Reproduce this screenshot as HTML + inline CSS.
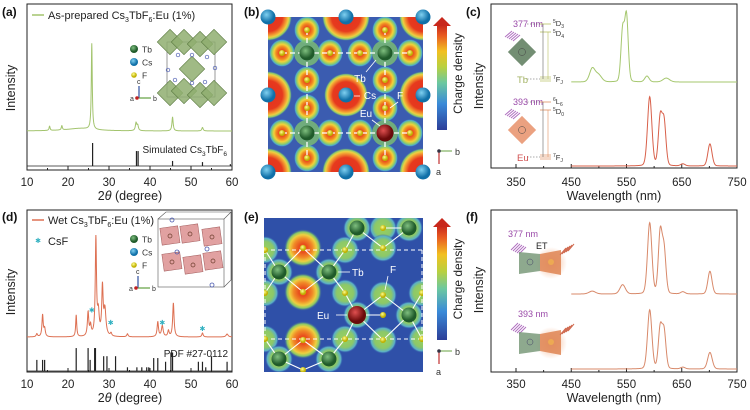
<!DOCTYPE html>
<html><head><meta charset="utf-8">
<style>
html,body{margin:0;padding:0;background:#fff;}
svg{display:block;font-family:"Liberation Sans",sans-serif;}
</style></head>
<body>
<svg id="fig" width="750" height="410" viewBox="0 0 750 410" xmlns="http://www.w3.org/2000/svg">
<defs>
<radialGradient id="gF"><stop offset="0" stop-color="#f5e020"/><stop offset="0.18" stop-color="#e8401c"/><stop offset="0.45" stop-color="#f08a22"/><stop offset="0.62" stop-color="#f2d23a"/><stop offset="0.8" stop-color="#8ccc6c"/><stop offset="0.92" stop-color="#4aa6d0"/><stop offset="1" stop-color="#3a5cb0" stop-opacity="0"/></radialGradient>
<radialGradient id="gCs"><stop offset="0" stop-color="#e23020"/><stop offset="0.6" stop-color="#e63a1e"/><stop offset="0.75" stop-color="#f29030"/><stop offset="0.85" stop-color="#eed040"/><stop offset="0.93" stop-color="#86c870"/><stop offset="1" stop-color="#3a5cb0" stop-opacity="0"/></radialGradient>
<radialGradient id="gG"><stop offset="0" stop-color="#9ad060"/><stop offset="0.6" stop-color="#8cc868"/><stop offset="0.85" stop-color="#5ab0c8"/><stop offset="1" stop-color="#2f50a8" stop-opacity="0"/></radialGradient>
<radialGradient id="gO"><stop offset="0" stop-color="#f5d020"/><stop offset="0.2" stop-color="#e84a1c"/><stop offset="0.5" stop-color="#f08a28"/><stop offset="0.7" stop-color="#eed040"/><stop offset="0.85" stop-color="#88c868"/><stop offset="1" stop-color="#2f50a8" stop-opacity="0"/></radialGradient>
<radialGradient id="ballG" cx="0.4" cy="0.35"><stop offset="0" stop-color="#7fbf7f"/><stop offset="1" stop-color="#1f5a2a"/></radialGradient>
<radialGradient id="ballB" cx="0.4" cy="0.35"><stop offset="0" stop-color="#7fd0f0"/><stop offset="1" stop-color="#1070a8"/></radialGradient>
<radialGradient id="ballR" cx="0.4" cy="0.35"><stop offset="0" stop-color="#e05050"/><stop offset="1" stop-color="#6a0a0a"/></radialGradient>
<radialGradient id="ballY" cx="0.4" cy="0.35"><stop offset="0" stop-color="#ffff90"/><stop offset="1" stop-color="#c0b000"/></radialGradient>
<linearGradient id="cbar" x1="0" y1="1" x2="0" y2="0"><stop offset="0" stop-color="#2c3e98"/><stop offset="0.25" stop-color="#3a8ad8"/><stop offset="0.45" stop-color="#6cc8a0"/><stop offset="0.6" stop-color="#b8d040"/><stop offset="0.75" stop-color="#f2c020"/><stop offset="0.9" stop-color="#e85a20"/><stop offset="1" stop-color="#c8281c"/></linearGradient>
<radialGradient id="glow"><stop offset="0" stop-color="#f0a070" stop-opacity="0.8"/><stop offset="1" stop-color="#f0a070" stop-opacity="0"/></radialGradient>
</defs>
<g id="root"></g>
</svg>
<script>
// ===== Panel (a) data =====
const aTicks = [10, 20, 30, 40, 50, 60];
const aPeaks = [[15.5, 5, 0.15], [18.5, 5, 0.15], [23, 3, 4], [25.8, 100, 0.14], [36.6, 9, 0.2], [37.0, 6, 0.2], [45.5, 16, 0.18], [52.8, 4, 0.2]];
const aSticks = [[26.0, 100], [36.7, 65], [37.1, 65], [45.5, 22], [52.8, 17], [59.6, 8]];
// ===== Panel (d) data =====
const dPeaks = [[12.4, 3, 0.2], [13.8, 22, 0.18], [14.3, 8, 0.2], [22.0, 22, 0.15], [24.9, 24, 0.2], [25.5, 10, 0.2], [26.8, 98, 0.18], [27.4, 22, 0.25], [28.4, 48, 0.2], [29.0, 26, 0.3], [30.5, 3, 0.2], [34.5, 3, 0.2], [41.9, 15, 0.2], [43.0, 11, 0.25], [44.5, 6, 0.2], [45.7, 34, 0.2], [52.8, 4, 0.2], [58.8, 3, 0.3]];
const dSticks = [[12.4, 30], [13.8, 30], [14.3, 30], [22.0, 62], [24.9, 62], [25.4, 30], [26.5, 62], [26.7, 62], [28.7, 40], [29.5, 40], [31.6, 40], [34.5, 10], [36.8, 10], [38.0, 10], [39.2, 10], [39.7, 10], [40.9, 35], [41.9, 35], [43.8, 25], [45.1, 50], [45.5, 50], [51.8, 25], [52.8, 25], [53.6, 10], [55.0, 40], [58.8, 25]];
const dCsF = [[25.8, 28], [30.4, 15], [43.0, 15], [52.8, 9]];
// ===== Panel (c) data =====
const wlTicks = [350, 450, 550, 650, 750];
const cTb = [[488, 20, 5], [499, 11, 6], [543, 78, 3.2], [550, 100, 3.2], [587, 9, 4], [622, 6, 6]];
const cEu = [[592, 100, 4], [611, 68, 3.5], [618, 62, 3.5], [652, 3, 4], [701, 32, 3.8]];
// ===== Panel (f) data =====
const fTop = [[488, 4, 6], [543, 13, 5], [592, 100, 4], [611, 85, 3.5], [618, 60, 3.5], [652, 3, 4], [701, 32, 3.8]];
const fBot = [[592, 100, 4], [611, 68, 3.5], [618, 62, 3.5], [652, 3, 4], [701, 28, 4.2]];

const NS = 'http://www.w3.org/2000/svg';
const root = document.getElementById('root');
function mk(tag, at, parent) {
  const e = document.createElementNS(NS, tag);
  for (const k in at) e.setAttribute(k, at[k]);
  (parent || root).appendChild(e);
  return e;
}
function txt(x, y, s, at, parent) {
  const e = mk('text', Object.assign({x: x, y: y}, at || {}), parent);
  e.innerHTML = s;
  return e;
}
function lor(x, peaks) { let s = 0; for (const p of peaks) { const u = (x - p[0]) / p[2]; s += p[1] / (1 + u * u); } return s; }
function gau(x, peaks) { let s = 0; for (const p of peaks) { const u = (x - p[0]) / p[2]; s += p[1] * (0.85 * Math.exp(-0.5 * u * u) + 0.15 / (1 + u * u)); } return s; }

function frame(x0, y0, x1, y1, name) {
  const r = mk('rect', {x: x0, y: y0, width: x1 - x0, height: y1 - y0, fill: 'none', stroke: '#222', 'stroke-width': 1});
  
  
}
function xaxis(sx, ticks, y1, minorStep, labelY, title, cx, titleY, name) {
  const g = mk('g', {});
  
  
  for (const t of ticks) {
    mk('line', {x1: sx(t), x2: sx(t), y1: y1, y2: y1 - 4, stroke: '#222'}, g);
    const l = txt(sx(t), labelY, t, {'font-size': 11.5, 'text-anchor': 'middle', fill: '#222'}, g);
    
    
  }
  for (let i = 0; i < ticks.length - 1; i++) {
    const m = (ticks[i] + ticks[i + 1]) / 2;
    mk('line', {x1: sx(m), x2: sx(m), y1: y1, y2: y1 - 2, stroke: '#222'}, g);
  }
  const tt = txt(cx, titleY, title, {'font-size': 12.5, 'text-anchor': 'middle', fill: '#222'}, g);
  
  
}
function ytitle(x, y, name) {
  const t = txt(x, y, 'Intensity', {'font-size': 12.5, 'text-anchor': 'middle', fill: '#222', transform: 'rotate(-90 ' + x + ' ' + y + ')'});
  
  
}
function plabel(x, y, s) {
  const t = txt(x, y, s, {'font-size': 12, 'font-weight': 'bold', fill: '#111'});
  
  
}
function curve(sx, sy, x0, x1, step, fn, color, name, w) {
  let d = '';
  for (let x = x0; x <= x1 + 1e-9; x += step) d += (d ? 'L' : 'M') + sx(x).toFixed(2) + ' ' + sy(fn(x)).toFixed(2);
  const p = mk('path', {d: d, fill: 'none', stroke: color, 'stroke-width': w || 1});
  
  
}
function sticks(sx, base, scale, data, name) {
  const g = mk('g', {});
  
  
  mk('line', {x1: sx(10), x2: sx(60), y1: base, y2: base, stroke: '#222', 'stroke-width': 0.8}, g);
  for (const s of data) mk('line', {x1: sx(s[0]), x2: sx(s[0]), y1: base, y2: base - s[1] * scale, stroke: '#222', 'stroke-width': 1.2}, g);
}
function atomLegend(x, y) {
  const g = mk('g', {});
  
  
  const items = [['Tb', 'url(#ballG)', 4], ['Cs', 'url(#ballB)', 4], ['F', 'url(#ballY)', 2.8]];
  items.forEach((it, i) => {
    mk('circle', {cx: x, cy: y + i * 13, r: it[2], fill: it[1]}, g);
    txt(x + 8, y + i * 13 + 3.5, it[0], {'font-size': 8.5, fill: '#333'}, g);
  });
}
function axesTriad(x, y, name) {
  const g = mk('g', {});
  
  
  mk('line', {x1: x, y1: y, x2: x, y2: y - 12, stroke: '#3050a0', 'stroke-width': 1.2}, g);
  mk('line', {x1: x, y1: y, x2: x + 12, y2: y, stroke: '#60a040', 'stroke-width': 1.2}, g);
  mk('circle', {cx: x - 2, cy: y, r: 1.8, fill: '#c02020'}, g);
  txt(x - 2, y - 14, 'c', {'font-size': 7, fill: '#333'}, g);
  txt(x + 14, y + 3, 'b', {'font-size': 7, fill: '#333'}, g);
  txt(x - 9, y + 3, 'a', {'font-size': 7, fill: '#333'}, g);
}

// ===================== Panel (a) =====================
const axA = d => 27 + (d - 10) * 4.1;
const ayA = v => 131 - v * 0.86;
frame(27, 4, 232, 170, 'plot-frame-a');
xaxis(axA, aTicks, 170, 5, 186, '2<tspan font-style="italic">θ</tspan> (degree)', 130, 200, 'x-axis-a');
ytitle(15, 88, 'y-axis-title-a');
plabel(2, 16, '(a)');
curve(axA, ayA, 10, 60, 0.04, x => lor(x, aPeaks), '#a3c46e', 'xrd-curve-a', 1);
sticks(axA, 166, 0.23, aSticks, 'simulated-sticks-a');
{
  const g = mk('g', {});  
  mk('line', {x1: 32, x2: 44, y1: 15, y2: 15, stroke: '#a3c46e', 'stroke-width': 1.5}, g);
  txt(48, 19, 'As-prepared Cs<tspan font-size="7" dy="3">3</tspan><tspan dy="-3">TbF</tspan><tspan font-size="7" dy="3">6</tspan><tspan dy="-3">:Eu (1%)</tspan>', {'font-size': 11, fill: '#222'}, g);
  const s = txt(227, 153, 'Simulated Cs<tspan font-size="6.5" dy="3">3</tspan><tspan dy="-3">TbF</tspan><tspan font-size="6.5" dy="3">6</tspan>', {'font-size': 10, fill: '#222', 'text-anchor': 'end'});
   
}
atomLegend(134, 49);
axesTriad(139, 98, 'axes-triad-a');
{ // crystal inset a
  const g = mk('g', {});  
  mk('rect', {x: 167, y: 42, width: 48, height: 55, fill: 'none', stroke: '#555', 'stroke-width': 0.6}, g);
  const oc = [[170, 42], [184, 42], [200, 44], [214, 42], [192, 69], [170, 93], [184, 91], [200, 95], [214, 93]];
  for (const o of oc) mk('rect', {x: o[0] - 9, y: o[1] - 9, width: 18, height: 18, fill: '#8fae70', 'fill-opacity': 0.85, stroke: '#5a7a40', 'stroke-width': 0.6, transform: 'rotate(45 ' + o[0] + ' ' + o[1] + ')'}, g);
  const cs = [[178, 55], [207, 57], [168, 70], [215, 68], [175, 80], [205, 82], [192, 55], [192, 83]];
  for (const c of cs) mk('circle', {cx: c[0], cy: c[1], r: 1.8, fill: 'none', stroke: '#4a5ab0', 'stroke-width': 0.7}, g);
}

// ===================== Panel (d) =====================
const ayD = v => 337 - v * 0.99;
frame(27, 210, 232, 372, 'plot-frame-d');
xaxis(axA, aTicks, 372, 5, 388, '2<tspan font-style="italic">θ</tspan> (degree)', 130, 402, 'x-axis-d');
ytitle(15, 292, 'y-axis-title-d');
plabel(2, 221, '(d)');
curve(axA, ayD, 10, 60, 0.04, x => lor(x, dPeaks), '#dd7052', 'xrd-curve-d', 1);
sticks(axA, 371, 0.37, dSticks, 'pdf-sticks-d');
{
  const g = mk('g', {});  
  for (const m of dCsF) txt(axA(m[0]), ayD(m[1]) + 3, '✱', {'font-size': 7, fill: '#30b0c0', 'text-anchor': 'middle'}, g);
}
{
  const g = mk('g', {});  
  mk('line', {x1: 32, x2: 44, y1: 220, y2: 220, stroke: '#dd7052', 'stroke-width': 1.5}, g);
  txt(48, 224, 'Wet Cs<tspan font-size="7" dy="3">3</tspan><tspan dy="-3">TbF</tspan><tspan font-size="7" dy="3">6</tspan><tspan dy="-3">:Eu (1%)</tspan>', {'font-size': 11, fill: '#222'}, g);
  txt(38, 243, '✱', {'font-size': 7, fill: '#30b0c0', 'text-anchor': 'middle'}, g);
  txt(48, 245, 'CsF', {'font-size': 11, fill: '#222'}, g);
  const s = txt(228, 357, 'PDF #27-0112', {'font-size': 10, fill: '#222', 'text-anchor': 'end'});
   
}
atomLegend(134, 239);
axesTriad(138, 288, 'axes-triad-d');
{ // crystal inset d
  const g = mk('g', {});  
  mk('rect', {x: 158, y: 219, width: 66, height: 68, fill: '#fff', stroke: '#555', 'stroke-width': 0.6}, g);
  mk('path', {d: 'M158 219 L166 212 L231 212 L224 219 M231 212 L231 280 L224 287', fill: 'none', stroke: '#555', 'stroke-width': 0.6}, g);
  const sq = [[170, 236], [190, 234], [212, 237], [172, 262], [193, 265], [213, 261]];
  for (const s of sq) mk('rect', {x: s[0] - 9, y: s[1] - 9, width: 18, height: 17, fill: '#d98a8a', 'fill-opacity': 0.8, stroke: '#a05a5a', 'stroke-width': 0.5, transform: 'rotate(-8 ' + s[0] + ' ' + s[1] + ')'}, g);
  for (const s of sq) mk('circle', {cx: s[0], cy: s[1], r: 2, fill: 'none', stroke: '#6a3a2a', 'stroke-width': 0.7}, g);
  for (const c of [[172, 220], [207, 249], [177, 252], [212, 285]]) mk('circle', {cx: c[0], cy: c[1], r: 2, fill: 'none', stroke: '#4a5ab0', 'stroke-width': 0.8}, g);
}

// ===================== Panel (c) =====================
const axC = n => 516 + (n - 350) * 0.5525;
frame(491, 4, 737, 168, 'plot-frame-c');
xaxis(axC, wlTicks, 168, 50, 186, 'Wavelength (nm)', 614, 200, 'x-axis-c');
ytitle(483, 86, 'y-axis-title-c');
plabel(466, 16, '(c)');
curve(axC, v => 82 - v * 0.65, 450, 750, 0.5, x => gau(x, cTb), '#a5c76e', 'tb-spectrum-c', 1);
curve(axC, v => 166 - v * 0.69, 450, 750, 0.5, x => gau(x, cEu), '#d8604a', 'eu-spectrum-c', 1);
function levelDiagram(y, col, ex, top1, top2, ion, ionCol, dcol, name) {
  const g = mk('g', {});  
  txt(513, y, ex, {'font-size': 9, fill: '#9a4aa8'}, g);
  for (let i = 0; i < 5; i++) mk('line', {x1: 505 + i * 2, y1: y + 10 + i, x2: 512 + i * 2, y2: y + 4 + i, stroke: '#b070c0', 'stroke-width': 1}, g);
  mk('rect', {x: 512, y: y + 15, width: 20, height: 20, fill: dcol, 'fill-opacity': 0.85, transform: 'rotate(45 522 ' + (y + 25) + ')'}, g);
  mk('circle', {cx: 522, cy: y + 25, r: 3.5, fill: 'none', stroke: '#444', 'stroke-width': 0.5}, g);
  mk('line', {x1: 527, y1: y - 3, x2: 540, y2: y - 3, stroke: '#555', 'stroke-dasharray': '1.5 1.5', 'stroke-width': 0.6}, g);
  mk('line', {x1: 527, y1: y + 52, x2: 540, y2: y + 52, stroke: '#555', 'stroke-dasharray': '1.5 1.5', 'stroke-width': 0.6}, g);
  mk('line', {x1: 540, y1: y - 3, x2: 551, y2: y - 3, stroke: col, 'stroke-width': 0.8}, g);
  mk('line', {x1: 540, y1: y + 5, x2: 551, y2: y + 5, stroke: col, 'stroke-width': 0.8}, g);
  for (let i = 0; i < 3; i++) mk('line', {x1: 540, y1: y + 50 + i * 2, x2: 551, y2: y + 50 + i * 2, stroke: col, 'stroke-width': 0.7}, g);
  mk('line', {x1: 543, y1: y - 3, x2: 543, y2: y + 52, stroke: '#666', 'stroke-width': 0.6}, g);
  mk('line', {x1: 548, y1: y + 5, x2: 548, y2: y + 52, stroke: col, 'stroke-width': 0.6}, g);
  txt(553, y - 1, top1, {'font-size': 7.5, fill: '#333'}, g);
  txt(553, y + 9, top2, {'font-size': 7.5, fill: '#333'}, g);
  txt(553, y + 55, '<tspan font-size="5" dy="-3">7</tspan><tspan dy="3">F</tspan><tspan font-size="5" dy="2">J</tspan>', {'font-size': 7.5, fill: '#333'}, g);
  txt(517, y + 56, ion, {'font-size': 9.5, fill: ionCol}, g);
}
levelDiagram(27, '#b8c060', '377 nm', '<tspan font-size="5" dy="-3">5</tspan><tspan dy="3">D</tspan><tspan font-size="5" dy="2">3</tspan>', '<tspan font-size="5" dy="-3">5</tspan><tspan dy="3">D</tspan><tspan font-size="5" dy="2">4</tspan>', 'Tb', '#a0b060', '#5a7a5a', 'tb-level-inset');
levelDiagram(105, '#e09060', '393 nm', '<tspan font-size="5" dy="-3">6</tspan><tspan dy="3">L</tspan><tspan font-size="5" dy="2">6</tspan>', '<tspan font-size="5" dy="-3">5</tspan><tspan dy="3">D</tspan><tspan font-size="5" dy="2">0</tspan>', 'Eu', '#d05050', '#e8906a', 'eu-level-inset');

// ===================== Panel (f) =====================
frame(491, 210, 737, 372, 'plot-frame-f');
xaxis(axC, wlTicks, 372, 50, 388, 'Wavelength (nm)', 614, 402, 'x-axis-f');
ytitle(483, 290, 'y-axis-title-f');
plabel(466, 221, '(f)');
curve(axC, v => 294 - v * 0.71, 450, 750, 0.5, x => gau(x, fTop), '#d8896a', 'spectrum-377-f', 1);
curve(axC, v => 369 - v * 0.59, 450, 750, 0.5, x => gau(x, fBot), '#d8896a', 'spectrum-393-f', 1);
function etInset(y, ex, et, name) {
  const g = mk('g', {});  
  mk('circle', {cx: 551, cy: y + 26, r: 16, fill: 'url(#glow)'}, g);
  txt(ex === '377 nm' ? 508 : 518, y, ex, {'font-size': 9, fill: '#9a4aa8'}, g);
  for (let i = 0; i < 5; i++) mk('line', {x1: 511 + i * 2, y1: y + 13 + i, x2: 518 + i * 2, y2: y + 6 + i, stroke: '#b070c0', 'stroke-width': 1}, g);
  mk('path', {d: 'M519 ' + (y + 15) + ' L540 ' + (y + 17) + ' L540 ' + (y + 34) + ' L519 ' + (y + 37) + ' Z', fill: '#7a9a7a', 'fill-opacity': 0.85}, g);
  mk('path', {d: 'M540 ' + (y + 17) + ' L561 ' + (y + 13) + ' L561 ' + (y + 38) + ' L540 ' + (y + 34) + ' Z', fill: '#e08a5a', 'fill-opacity': 0.9}, g);
  mk('circle', {cx: 530, cy: y + 25, r: 3, fill: 'none', stroke: '#446', 'stroke-width': 0.5}, g);
  mk('circle', {cx: 551, cy: y + 25, r: 3, fill: '#f0b050', 'fill-opacity': 0.8}, g);
  for (let i = 0; i < 5; i++) mk('line', {x1: 560 + i * 2, y1: y + 18 - i, x2: 566 + i * 2, y2: y + 11 - i, stroke: '#d06a50', 'stroke-width': 1}, g);
  if (et) txt(536, y + 12, 'ET', {'font-size': 9, fill: '#222'}, g);
}
etInset(237, '377 nm', true, 'energy-transfer-inset-377');
etInset(317, '393 nm', false, 'energy-transfer-inset-393');

// ===================== Panel (b) charge density =====================
const bF = [[282, 53], [330, 53], [307, 30], [307, 80], [360, 53], [410, 53], [385, 30], [385, 80], [282, 133], [330, 133], [307, 108], [307, 158], [360, 133], [410, 133], [385, 108], [385, 158]];
const bCs = [[268, 17], [346, 17], [423, 17], [268, 95], [346, 95], [423, 95], [268, 172], [346, 172], [423, 172]];
{
  const g = mk('g', {});  
  const cpB = mk('clipPath', {id: 'clipB'}, g);
  mk('rect', {x: 268, y: 17, width: 155, height: 155}, cpB);
  const inner = mk('g', {'clip-path': 'url(#clipB)'}, g);
  mk('rect', {x: 268, y: 17, width: 155, height: 155, fill: '#3b5cb0'}, inner);
  for (const c of bCs) mk('circle', {cx: c[0], cy: c[1], r: c[0] === 346 && c[1] === 95 ? 22 : 24, fill: 'url(#gCs)'}, inner);
  for (const f of bF) mk('ellipse', {cx: f[0], cy: f[1], rx: 13, ry: 14, fill: 'url(#gF)'}, inner);
  for (const t of [[307, 53], [385, 53], [307, 133], [385, 133]]) mk('circle', {cx: t[0], cy: t[1], r: 13, fill: '#7ec070', 'fill-opacity': 0.8}, inner);
  for (const yy of [53, 133]) mk('line', {x1: 282, x2: 410, y1: yy, y2: yy, stroke: '#fff', 'stroke-width': 1.3, 'stroke-dasharray': '5 3'}, inner);
  for (const xx of [307, 385]) mk('line', {x1: xx, x2: xx, y1: 30, y2: 158, stroke: '#fff', 'stroke-width': 1.3, 'stroke-dasharray': '5 3'}, inner);
  for (const f of bF) mk('circle', {cx: f[0], cy: f[1], r: 3, fill: 'url(#ballY)'}, inner);
  mk('circle', {cx: 307, cy: 53, r: 7.5, fill: 'url(#ballG)'}, g);
  mk('circle', {cx: 385, cy: 53, r: 7.5, fill: 'url(#ballG)'}, g);
  mk('circle', {cx: 307, cy: 133, r: 7.5, fill: 'url(#ballG)'}, g);
  mk('circle', {cx: 385, cy: 133, r: 8.5, fill: 'url(#ballR)'}, g);
  for (const c of bCs) mk('circle', {cx: c[0], cy: c[1], r: 7.5, fill: 'url(#ballB)'}, g);
  mk('line', {x1: 376, y1: 60, x2: 366, y2: 72, stroke: '#fff', 'stroke-width': 0.8}, g);
  txt(360, 82, 'Tb', {'font-size': 10, fill: '#fff', 'text-anchor': 'middle'}, g);
  mk('line', {x1: 354, y1: 96, x2: 360, y2: 96, stroke: '#fff', 'stroke-width': 0.8}, g);
  txt(370, 99, 'Cs', {'font-size': 10, fill: '#fff', 'text-anchor': 'middle'}, g);
  txt(400, 99, 'F', {'font-size': 10, fill: '#fff', 'text-anchor': 'middle'}, g);
  mk('line', {x1: 398, y1: 102, x2: 390, y2: 108, stroke: '#fff', 'stroke-width': 0.8}, g);
  txt(366, 117, 'Eu', {'font-size': 10, fill: '#fff', 'text-anchor': 'middle'}, g);
  mk('line', {x1: 372, y1: 120, x2: 380, y2: 126, stroke: '#fff', 'stroke-width': 0.8}, g);
}
function colorbar(y0, y1, name, tx) {
  const g = mk('g', {});  
  mk('rect', {x: 437, y: y0 + 8, width: 10, height: y1 - y0 - 8, fill: 'url(#cbar)'}, g);
  mk('path', {d: 'M433 ' + (y0 + 9) + ' L442 ' + y0 + ' L451 ' + (y0 + 9) + ' Z', fill: '#c8281c'}, g);
  const cy = (y0 + y1) / 2;
  txt(tx, cy, 'Charge density', {'font-size': 12, fill: '#222', 'text-anchor': 'middle', transform: 'rotate(-90 ' + tx + ' ' + cy + ')'}, g);
}
colorbar(17, 130, 'colorbar-b', 462);
{
  const g = mk('g', {});  
  mk('line', {x1: 439, y1: 151, x2: 452, y2: 151, stroke: '#80b060', 'stroke-width': 1.2}, g);
  mk('line', {x1: 439, y1: 151, x2: 439, y2: 164, stroke: '#c03030', 'stroke-width': 1.2}, g);
  mk('circle', {cx: 439, cy: 151, r: 1.8, fill: '#334'}, g);
  txt(455, 155, 'b', {'font-size': 9, fill: '#333'}, g);
  txt(436, 175, 'a', {'font-size': 9, fill: '#333'}, g);
}
plabel(244, 16, '(b)');

// ===================== Panel (e) charge density =====================
const eOr = [[303, 248], [303, 292], [303, 340]];
const eGr = [[265, 250], [265, 293], [265, 339], [345, 250], [345, 293], [345, 339], [383, 228], [383, 248], [383, 295], [383, 340], [422, 293], [422, 339], [279, 272], [329, 272], [357, 228], [409, 228], [279, 359], [329, 359], [409, 315], [357, 315]];
const eFy = [[303, 248], [303, 292], [303, 340], [303, 370], [265, 250], [265, 293], [265, 339], [345, 250], [345, 293], [345, 339], [383, 228], [383, 248], [383, 295], [383, 315], [383, 340], [422, 293], [422, 339]];
{
  const g = mk('g', {});  
  const cp = mk('clipPath', {id: 'clipE'}, g);
  mk('rect', {x: 264, y: 218, width: 159, height: 154}, cp);
  const inner = mk('g', {'clip-path': 'url(#clipE)'}, g);
  mk('rect', {x: 264, y: 218, width: 159, height: 154, fill: '#2f50a8'}, inner);
  for (const p of eGr) mk('circle', {cx: p[0], cy: p[1], r: 14, fill: 'url(#gG)'}, inner);
  for (const p of eOr) mk('circle', {cx: p[0], cy: p[1], r: 19, fill: 'url(#gO)'}, inner);
  for (const yy of [250, 339]) mk('line', {x1: 264, x2: 423, y1: yy, y2: yy, stroke: '#fff', 'stroke-width': 1, 'stroke-dasharray': '4 3'}, inner);
  for (const xx of [265, 422]) mk('line', {x1: xx, x2: xx, y1: 250, y2: 339, stroke: '#fff', 'stroke-width': 1, 'stroke-dasharray': '4 3'}, inner);
  const bonds = [[279, 272, 265, 250], [279, 272, 303, 248], [279, 272, 265, 293], [279, 272, 303, 292], [329, 272, 303, 248], [329, 272, 345, 293], [329, 272, 303, 292], [357, 228, 345, 250], [357, 228, 383, 248], [409, 228, 383, 228], [409, 228, 383, 248], [357, 315, 345, 293], [357, 315, 383, 295], [357, 315, 345, 339], [357, 315, 383, 340], [357, 315, 383, 315], [409, 315, 383, 295], [409, 315, 383, 340], [409, 315, 422, 293], [409, 315, 422, 339], [279, 359, 265, 339], [279, 359, 303, 340], [279, 359, 303, 370], [329, 359, 303, 340], [329, 359, 345, 339], [329, 359, 303, 370], [329, 272, 345, 250]];
  for (const b of bonds) mk('line', {x1: b[0], y1: b[1], x2: b[2], y2: b[3], stroke: '#fff', 'stroke-width': 1.1}, inner);
  for (const f of eFy) mk('circle', {cx: f[0], cy: f[1], r: 3, fill: 'url(#ballY)'}, inner);
  for (const t of [[279, 272], [329, 272], [357, 228], [409, 228], [279, 359], [329, 359], [409, 315]]) mk('circle', {cx: t[0], cy: t[1], r: 7.5, fill: 'url(#ballG)'}, inner);
  mk('circle', {cx: 357, cy: 315, r: 9, fill: 'url(#ballR)'}, inner);
  mk('line', {x1: 338, y1: 272, x2: 350, y2: 272, stroke: '#fff', 'stroke-width': 0.8}, g);
  txt(352, 276, 'Tb', {'font-size': 10, fill: '#fff'}, g);
  mk('line', {x1: 336, y1: 315, x2: 347, y2: 315, stroke: '#fff', 'stroke-width': 0.8}, g);
  txt(317, 319, 'Eu', {'font-size': 10, fill: '#fff'}, g);
  txt(390, 273, 'F', {'font-size': 10, fill: '#fff'}, g);
  mk('line', {x1: 388, y1: 276, x2: 385, y2: 290, stroke: '#fff', 'stroke-width': 0.8}, g);
}
colorbar(218, 340, 'colorbar-e', 462);
{
  const g = mk('g', {});  
  mk('line', {x1: 439, y1: 351, x2: 452, y2: 351, stroke: '#80b060', 'stroke-width': 1.2}, g);
  mk('line', {x1: 439, y1: 351, x2: 439, y2: 364, stroke: '#c03030', 'stroke-width': 1.2}, g);
  mk('circle', {cx: 439, cy: 351, r: 1.8, fill: '#334'}, g);
  txt(455, 355, 'b', {'font-size': 9, fill: '#333'}, g);
  txt(436, 375, 'a', {'font-size': 9, fill: '#333'}, g);
}
plabel(244, 221, '(e)');
</script>
</body></html>
